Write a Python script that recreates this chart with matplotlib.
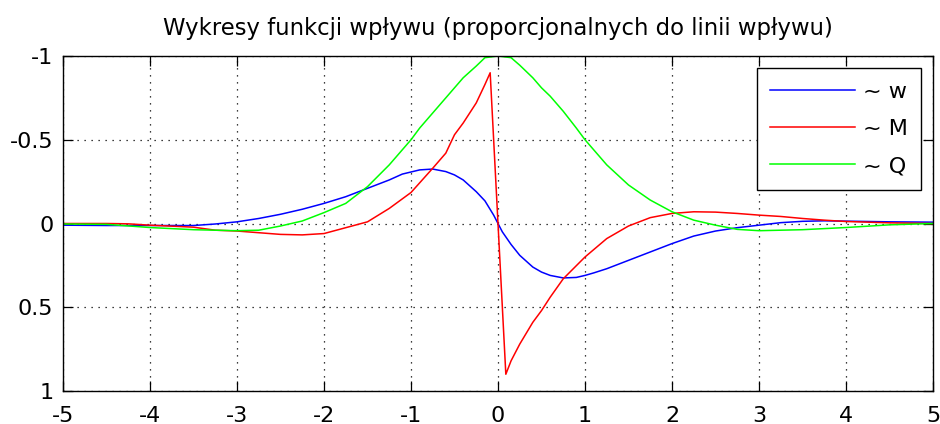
import numpy as np
import matplotlib
matplotlib.use('Agg')
import matplotlib.pyplot as plt

plt.rcParams['font.family'] = ['DejaVu Sans']

# dane (os y odwrocona)
x_w = [-5, -4.5, -4, -3.5, -3.25, -3, -2.75, -2.5, -2.25, -2, -1.75, -1.5, -1.25, -1.1,
       -0.9, -0.75, -0.6, -0.5, -0.4, -0.25, -0.15, -0.05, 0, 0.05, 0.15, 0.25, 0.4,
       0.5, 0.6, 0.75, 0.9, 1, 1.1, 1.25, 1.5, 1.75, 2, 2.25, 2.5, 2.75, 3, 3.25, 3.5,
       3.75, 4, 4.5, 5]
w = [0.01, 0.012, 0.012, 0.012, 0.003, -0.01, -0.03, -0.055, -0.085, -0.12, -0.16, -0.21,
     -0.26, -0.295, -0.32, -0.325, -0.31, -0.29, -0.26, -0.19, -0.135, -0.05, 0, 0.05,
     0.125, 0.19, 0.26, 0.29, 0.31, 0.325, 0.322, 0.31, 0.295, 0.27, 0.22, 0.17, 0.12,
     0.075, 0.045, 0.025, 0.01, -0.005, -0.013, -0.016, -0.014, -0.01, -0.008]

x_M = [-5, -4.5, -4.25, -4, -3.5, -3.25, -3, -2.75, -2.5, -2.25, -2, -1.75, -1.5, -1.25,
       -1, -0.75, -0.6, -0.5, -0.4, -0.25, -0.15, -0.09, 0, 0.09, 0.15, 0.25, 0.4, 0.5,
       0.6, 0.75, 1, 1.25, 1.5, 1.75, 2, 2.25, 2.5, 2.75, 3, 3.25, 3.5, 3.75, 4, 4.5, 5]
M = [0, 0, 0.002, 0.01, 0.022, 0.04, 0.045, 0.055, 0.065, 0.068, 0.06, 0.025, -0.01,
     -0.09, -0.185, -0.33, -0.42, -0.53, -0.6, -0.72, -0.83, -0.9, 0, 0.9, 0.82, 0.72,
     0.59, 0.52, 0.44, 0.33, 0.2, 0.09, 0.015, -0.035, -0.06, -0.07, -0.068, -0.06,
     -0.05, -0.042, -0.03, -0.02, -0.012, -0.004, 0]

x_Q = [-5, -4.5, -4, -3.5, -3, -2.75, -2.5, -2.25, -2, -1.75, -1.5, -1.25, -1.1, -1,
       -0.9, -0.75, -0.6, -0.5, -0.4, -0.25, -0.15, 0, 0.15, 0.25, 0.4, 0.5, 0.6, 0.75,
       0.9, 1, 1.1, 1.25, 1.5, 1.75, 2, 2.25, 2.5, 2.75, 3, 3.5, 4, 4.5, 5]
Q = [0.003, 0.005, 0.024, 0.037, 0.043, 0.04, 0.015, -0.015, -0.065, -0.12, -0.22,
     -0.35, -0.44, -0.5, -0.57, -0.66, -0.75, -0.81, -0.87, -0.94, -0.99, -1.0, -0.99,
     -0.945, -0.87, -0.81, -0.76, -0.67, -0.57, -0.5, -0.44, -0.35, -0.23, -0.14, -0.07,
     -0.02, 0.01, 0.035, 0.043, 0.037, 0.024, 0.008, 0]

xticks = [-5, -4, -3, -2, -1, 0, 1, 2, 3, 4, 5]
xtick_labels = ['-5', '-4', '-3', '-2', '-1', '0', '1', '2', '3', '4', '5']
yticks = [-1, -0.5, 0, 0.5, 1]
ytick_labels = ['-1', '-0.5', '0', '0.5', '1']

fig = plt.figure(figsize=(9.4, 4.24), dpi=100)
ax = fig.add_axes([63 / 940, 1 - 391 / 424, 870 / 940, 335 / 424])

ax.plot(x_w, w, color=(0, 0, 1), lw=1.1, label='~ w')
ax.plot(x_M, M, color=(1, 0, 0), lw=1.1, label='~ M')
ax.plot(x_Q, Q, color=(0, 1, 0), lw=1.1, label='~ Q')

ax.set_xlim(-5, 5)
ax.set_ylim(1, -1)
ax.set_xticks(xticks)
ax.set_xticklabels(xtick_labels)
ax.set_yticks(yticks)
ax.set_yticklabels(ytick_labels)
ax.tick_params(direction='in', length=7, width=0.9, top=True, right=True,
               labelsize=16, colors='black')
ax.tick_params(axis='x', pad=10.5)
ax.tick_params(axis='y', pad=7)
for s in ax.spines.values():
    s.set_linewidth(1.0)
    s.set_color('black')

ax.grid(True, color='black', linestyle=(0, (1, 4.6)), linewidth=0.9)

ax.set_title('Wykresy funkcji wpływu (proporcjonalnych do linii wpływu)',
             fontsize=16.4, pad=15)

leg = ax.legend(loc='upper right', fontsize=16, fancybox=False, framealpha=1,
                edgecolor='black', handlelength=3.8, handletextpad=0.35,
                borderaxespad=0.55, borderpad=0.6, labelspacing=0.78)
leg.get_frame().set_linewidth(1.0)

fig.savefig('out.png', dpi=100)
